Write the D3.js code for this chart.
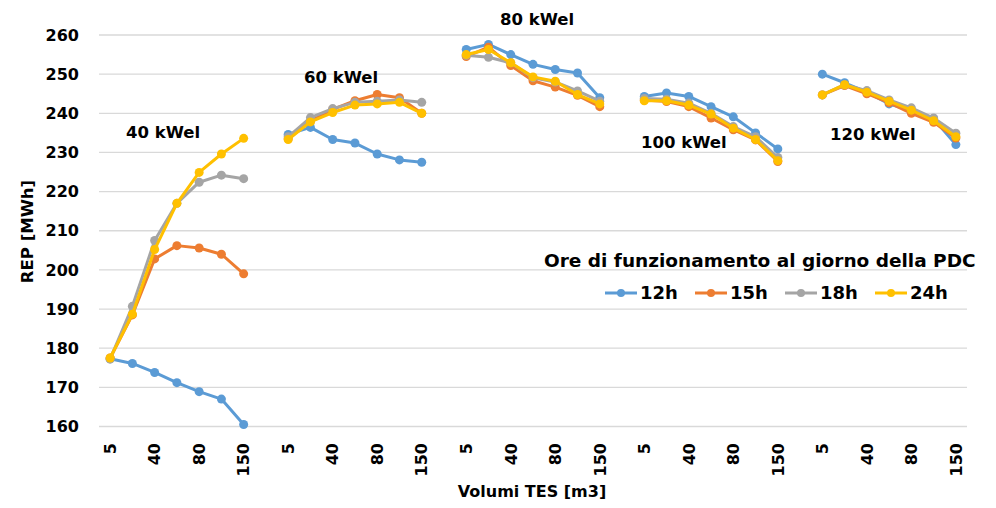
<!DOCTYPE html>
<html>
<head>
<meta charset="utf-8">
<script src="https://cdn.jsdelivr.net/npm/d3@7"></script>
<style>
  html, body { margin: 0; padding: 0; background: #fff; }
  svg { display: block; }
  text { font-family: "DejaVu Sans", sans-serif; font-weight: bold; fill: #000; }
</style>
</head>
<body>
<svg id="chart" width="996" height="508"></svg>
<script>
// ---- data ----
const groups = ["40 kWel", "60 kWel", "80 kWel", "100 kWel", "120 kWel"];
const volumes = ["5", "20", "40", "60", "80", "100", "150"];
const seriesNames = ["12h", "15h", "18h", "24h"];
const seriesColors = ["#5B9BD5", "#ED7D31", "#A5A5A5", "#FFC000"];
const yTicks = [160, 170, 180, 190, 200, 210, 220, 230, 240, 250, 260];

const h12 = [
  [177.3, 176.1, 173.8, 171.2, 168.9, 167.0, 160.5],
  [234.6, 236.4, 233.3, 232.4, 229.6, 228.1, 227.5],
  [256.3, 257.6, 255.0, 252.5, 251.2, 250.3, 244.0],
  [244.3, 245.2, 244.3, 241.7, 239.1, 235.0, 230.9],
  [250.0, 247.8, 245.4, 242.4, 240.6, 238.6, 232.0]
];
const h15 = [
  [177.5, 188.5, 202.8, 206.2, 205.6, 204.0, 199.0],
  [233.5, 238.0, 241.0, 243.2, 244.8, 244.0, 240.0],
  [254.5, 256.9, 252.2, 248.3, 246.7, 244.6, 241.7],
  [243.4, 243.0, 241.7, 238.8, 235.8, 233.2, 227.7],
  [244.7, 247.1, 245.0, 242.7, 240.0, 237.7, 233.7]
];
const h18 = [
  [177.2, 190.7, 207.5, 217.0, 222.4, 224.2, 223.3],
  [234.0, 238.9, 241.2, 242.8, 243.1, 243.4, 242.8],
  [254.8, 254.3, 252.9, 249.1, 248.0, 245.7, 243.1],
  [243.8, 243.6, 242.6, 240.0, 236.6, 234.0, 228.7],
  [244.7, 247.3, 245.8, 243.4, 241.4, 238.8, 234.9]
];
const h24 = [
  [177.5, 188.7, 205.2, 217.0, 224.9, 229.6, 233.6],
  [233.3, 237.8, 240.2, 242.1, 242.4, 242.8, 240.0],
  [255.0, 256.3, 252.9, 249.3, 248.2, 244.8, 242.4],
  [243.2, 243.2, 242.1, 239.8, 236.2, 233.3, 227.9],
  [244.7, 247.3, 245.4, 243.1, 240.8, 238.1, 234.0]
];
const seriesValues = [h12, h15, h18, h24];

// ---- layout ----
const svg = d3.select("#chart");
const plot = { left: 99, right: 967, top: 35, bottom: 426.5 };

// category keys: 7 volumes per group + an empty separator between groups
const cats = [];
groups.forEach((g, gi) => {
  volumes.forEach(v => cats.push({ key: g + "|" + v, label: v }));
  if (gi < groups.length - 1) cats.push({ key: g + "|gap", label: "" });
});
const labelOf = new Map(cats.map((c, i) => [c.key, i % 2 === 0 ? c.label : ""]));

const x = d3.scaleBand().domain(cats.map(c => c.key)).range([plot.left, plot.right]).padding(0);
const y = d3.scaleLinear().domain([160, 260]).range([plot.bottom, plot.top]);
const cx = k => x(k) + x.bandwidth() / 2;

// gridlines
svg.append("g").selectAll("line").data(yTicks).join("line")
  .attr("x1", plot.left).attr("x2", plot.right)
  .attr("y1", d => y(d)).attr("y2", d => y(d))
  .attr("stroke", "#D9D9D9").attr("stroke-width", 1.3);

// y axis
const yAxis = svg.append("g").attr("transform", `translate(${plot.left},0)`)
  .call(d3.axisLeft(y).tickValues(yTicks).tickSize(0).tickPadding(20).tickFormat(d3.format("d")));
yAxis.select(".domain").remove();
yAxis.selectAll("text").style("font-size", "16px").style("font-family", "DejaVu Sans").style("font-weight", "bold").attr("fill", "#000");

// x axis
const xAxis = svg.append("g").attr("transform", `translate(0,${plot.bottom})`)
  .call(d3.axisBottom(x).tickSize(0).tickFormat(k => labelOf.get(k)));
xAxis.select(".domain").remove();
xAxis.selectAll("text")
  .style("font-size", "16px").style("font-family", "DejaVu Sans").style("font-weight", "bold").attr("fill", "#000")
  .attr("transform", "rotate(-90)")
  .attr("x", -16.5).attr("y", 0).attr("dy", "0.36em")
  .style("text-anchor", "end");

// series
const line = d3.line().x(d => cx(d.key)).y(d => y(d.v));
seriesValues.forEach((vals, si) => {
  const g = svg.append("g");
  groups.forEach((grp, gi) => {
    const pts = volumes.map((v, vi) => ({ key: grp + "|" + v, v: vals[gi][vi] }));
    g.append("path").datum(pts).attr("d", line)
      .attr("fill", "none").attr("stroke", seriesColors[si])
      .attr("stroke-width", 3).attr("stroke-linejoin", "round");
    g.selectAll(null).data(pts).join("circle")
      .attr("cx", d => cx(d.key)).attr("cy", d => y(d.v)).attr("r", 4.5)
      .attr("fill", seriesColors[si]);
  });
});

// group labels
const groupLabelPos = [[126, 138], [304, 83], [500, 25], [641, 148], [830, 140]];
svg.append("g").selectAll("text").data(groups).join("text")
  .attr("x", (d, i) => groupLabelPos[i][0]).attr("y", (d, i) => groupLabelPos[i][1])
  .style("font-size", "16.5px").text(d => d);

// axis titles
svg.append("text").attr("transform", "translate(33,231.5) rotate(-90)")
  .attr("text-anchor", "middle").style("font-size", "16.5px").text("REP [MWh]");
svg.append("text").attr("x", 532).attr("y", 497)
  .attr("text-anchor", "middle").style("font-size", "16px").text("Volumi TES [m3]");

// legend
svg.append("text").attr("x", 544).attr("y", 267).style("font-size", "18.5px")
  .text("Ore di funzionamento al giorno della PDC");
const leg = svg.append("g").selectAll("g").data(seriesNames).join("g")
  .attr("transform", (d, i) => `translate(${605 + i * 90},293)`);
leg.append("line").attr("x1", 0).attr("x2", 32).attr("y1", 0).attr("y2", 0)
  .attr("stroke", (d, i) => seriesColors[i]).attr("stroke-width", 3);
leg.append("circle").attr("cx", 16).attr("cy", 0).attr("r", 4)
  .attr("fill", (d, i) => seriesColors[i]);
leg.append("text").attr("x", 35).attr("y", 0).attr("dy", "0.36em")
  .style("font-size", "18px").text(d => d);
</script>
</body>
</html>
